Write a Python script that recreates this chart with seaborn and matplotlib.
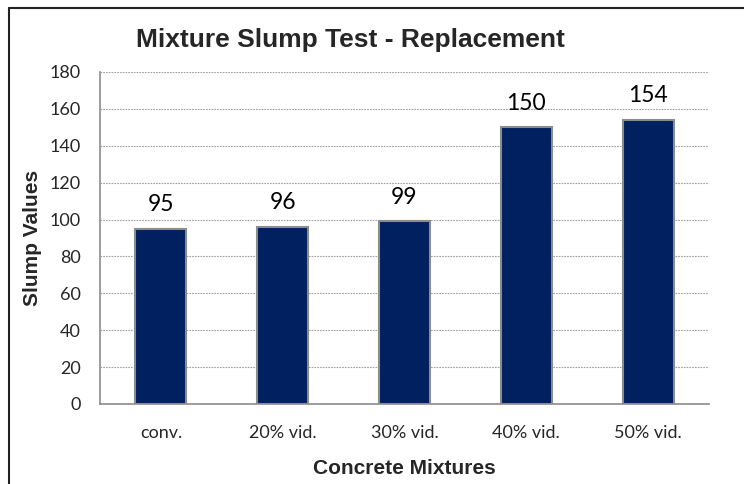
import matplotlib
matplotlib.use("Agg")
import matplotlib.pyplot as plt
import seaborn as sns
import pandas as pd
from matplotlib.lines import Line2D
from matplotlib.ticker import FixedLocator

categories = ["conv.", "20% vid.", "30% vid.", "40% vid.", "50% vid."]
values = [95, 96, 99, 150, 154]
yticks = [0, 20, 40, 60, 80, 100, 120, 140, 160, 180]

sns.set_style("white")
plt.rcParams['font.family'] = ['Lato', 'DejaVu Sans']

df = pd.DataFrame({"cat": categories, "val": values})

fig = plt.figure(figsize=(7.44, 4.84), dpi=100)
ax = fig.add_axes([100/744, 1-404/484, 609/744, 332/484])

sns.barplot(data=df, x="cat", y="val", ax=ax, color="#002060", width=0.42,
            edgecolor="#8c8c8c", linewidth=1.5, saturation=1)

ax.set_ylim(0, 180)
ax.set_xlim(-0.5, len(categories) - 0.5)
ax.set_yticks(yticks)
ax.yaxis.grid(True, linestyle=(0, (1.5, 1)), color="#a0a0a0", linewidth=0.8)
ax.set_axisbelow(True)

for sp in ["top", "right"]:
    ax.spines[sp].set_visible(False)
for sp in ["left", "bottom"]:
    ax.spines[sp].set_color("#8c8c8c")
    ax.spines[sp].set_linewidth(1.2)

ax.tick_params(axis="y", which="major", length=5, color="#8c8c8c", direction="out",
               labelsize=13, pad=9)
ax.tick_params(axis="x", which="major", length=0, labelsize=13, pad=15)
ax.xaxis.set_minor_locator(FixedLocator([i - 0.5 for i in range(len(categories) + 1)]))
ax.tick_params(axis="x", which="minor", length=6, color="#8c8c8c", direction="out")

for i, v in enumerate(values):
    ax.text(i, v + 9.5, str(v), ha="center", va="baseline", fontsize=16.5, color="black")

ax.set_xlabel("Concrete Mixtures", fontsize=15, fontweight="bold",
              family=["Liberation Sans", "DejaVu Sans"], labelpad=13)
ax.set_ylabel("Slump Values", fontsize=15, fontweight="bold",
              family=["Liberation Sans", "DejaVu Sans"], labelpad=5)
fig.text(350/744, 1-40/484, "Mixture Slump Test - Replacement", ha="center", va="center",
         fontsize=19, fontweight="bold", family=["Liberation Sans", "DejaVu Sans"])

fig.lines.append(Line2D([8.5/744, 8.5/744], [0, 1-8/484], transform=fig.transFigure,
                        color="#222222", linewidth=1.5))
fig.lines.append(Line2D([8.5/744, 1], [1-8/484, 1-8/484], transform=fig.transFigure,
                        color="#222222", linewidth=1.5))

fig.savefig("out.png", dpi=100)
